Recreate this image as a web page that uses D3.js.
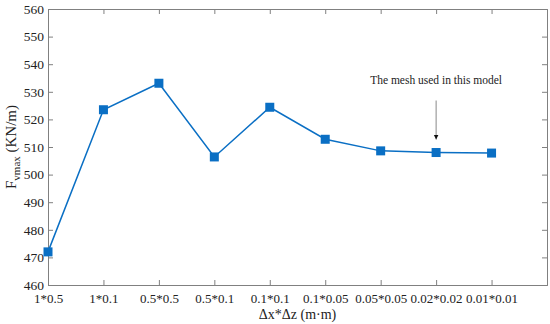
<!DOCTYPE html>
<html>
<head>
<meta charset="utf-8">
<script src="https://cdn.jsdelivr.net/npm/d3@7"></script>
<style>
  body { margin: 0; background: #fff; }
  text { font-family: "Liberation Serif", "Times New Roman", serif; fill: #222; }
</style>
</head>
<body>
<div id="chart"></div>
<script>
// mesh sizes and the peak force for each
const meshes = ["1*0.5", "1*0.1", "0.5*0.5", "0.5*0.1", "0.1*0.1", "0.1*0.05", "0.05*0.05", "0.02*0.02", "0.01*0.01"];
const fvmax = [472, 523.5, 533.1, 506.4, 524.4, 512.8, 508.6, 508.0, 507.8];
const yTicks = [460, 470, 480, 490, 500, 510, 520, 530, 540, 550, 560];

let width = 550;
let height = 324;
let margin = { top: 9, right: 3, bottom: 39, left: 48 };

var svg = d3
    .select("#chart")
    .append("svg")
    .attr("width", width)
    .attr("height", height);

let g = svg.append("g")
    .attr("transform", "translate(" + margin.left + "," + margin.top + ")");

let w = width - margin.left - margin.right;
let h = height - margin.top - margin.bottom;

// one empty slot on the right, like the matlab figure
let x = d3.scaleLinear().domain([0, meshes.length]).range([0, w]);
let y = d3.scaleLinear().domain([460, 560]).range([h, 0]);

let axisColor = "#808080";

// box with inward ticks on all sides
function styleAxis(sel) {
  sel.select(".domain").attr("stroke", axisColor);
  sel.selectAll(".tick line").attr("stroke", axisColor);
  sel.selectAll("text").style("font-size", "13.5px").attr("fill", "#222");
}

let idx = d3.range(meshes.length);

g.append("g")
  .attr("transform", "translate(0," + h + ")")
  .call(d3.axisBottom(x).tickValues(idx).tickSize(-5).tickPadding(9)
    .tickFormat((d) => meshes[d]))
  .call(styleAxis)
  .selectAll("text").style("font-size", "13px");

g.append("g")
  .call(d3.axisTop(x).tickValues(idx).tickSize(-5).tickFormat(""))
  .call(styleAxis);

g.append("g")
  .call(d3.axisLeft(y).tickValues(yTicks).tickSize(-5).tickPadding(4))
  .call(styleAxis);

g.append("g")
  .attr("transform", "translate(" + w + ",0)")
  .call(d3.axisRight(y).tickValues(yTicks).tickSize(-5).tickFormat(""))
  .call(styleAxis);

// the data line
let line = d3.line()
    .x((d, i) => x(i))
    .y((d) => y(d));

g.append("path")
  .datum(fvmax)
  .attr("fill", "none")
  .attr("stroke", "#0a6fc4")
  .attr("stroke-width", 1.5)
  .attr("d", line);

let ms = 9;
g.selectAll("rect.marker")
  .data(fvmax)
  .enter()
  .append("rect")
  .attr("class", "marker")
  .attr("x", (d, i) => x(i) - ms / 2)
  .attr("y", (d) => y(d) - ms / 2)
  .attr("width", ms)
  .attr("height", ms)
  .attr("fill", "#0a6fc4");

// annotation for the chosen mesh
let chosen = 7;
svg.append("defs")
  .append("marker")
  .attr("id", "arrowhead")
  .attr("viewBox", "0 0 10 10")
  .attr("refX", 10)
  .attr("refY", 5)
  .attr("markerWidth", 5)
  .attr("markerHeight", 6)
  .attr("orient", "auto")
  .append("path")
  .attr("d", "M0,0 L10,5 L0,10 z")
  .attr("fill", "#111");

g.append("line")
  .attr("x1", x(chosen))
  .attr("x2", x(chosen))
  .attr("y1", y(fvmax[chosen]) - 52)
  .attr("y2", y(fvmax[chosen]) - 13)
  .attr("stroke", "#888")
  .attr("stroke-width", 1)
  .attr("marker-end", "url(#arrowhead)");

g.append("text")
  .attr("x", x(chosen))
  .attr("y", y(fvmax[chosen]) - 69)
  .attr("text-anchor", "middle")
  .style("font-size", "11.5px")
  .text("The mesh used in this model");

// axis titles
svg.append("text")
  .attr("x", margin.left + w / 2)
  .attr("y", 319)
  .attr("text-anchor", "middle")
  .style("font-size", "14px")
  .text("\u0394x*\u0394z (m\u00b7m)");

let ylab = svg.append("text")
  .attr("transform", "translate(16," + (margin.top + h / 2) + ") rotate(-90)")
  .attr("text-anchor", "middle")
  .style("font-size", "15px");
ylab.append("tspan").text("F");
ylab.append("tspan").attr("dy", 4).style("font-size", "11px").text("vmax");
ylab.append("tspan").attr("dy", -4).text(" (KN/m)");
</script>
</body>
</html>
